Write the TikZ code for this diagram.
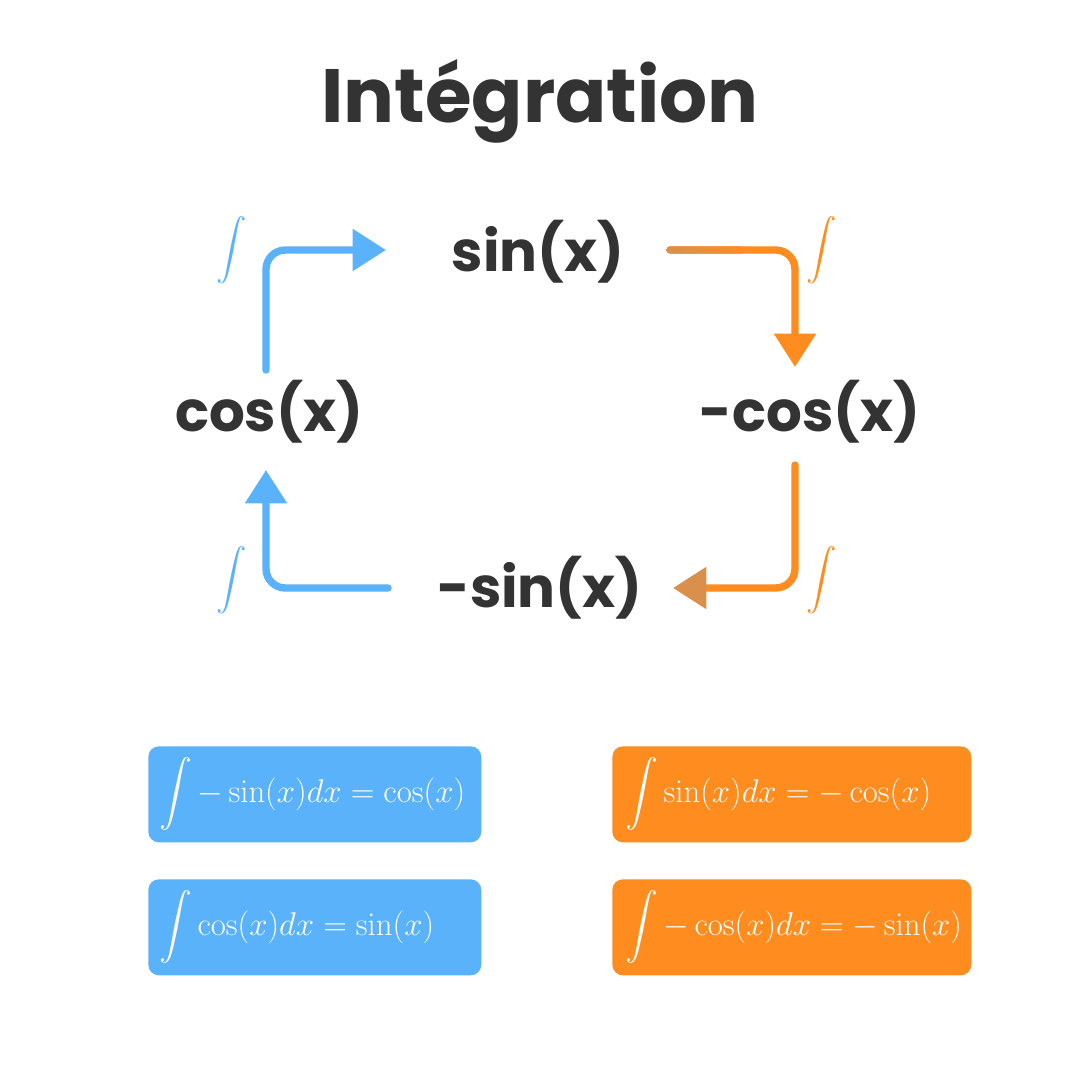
\documentclass[tikz,border=0pt]{standalone}
\usepackage{amsmath}
\usepackage{graphicx}
\usepackage[no-math]{fontspec}
\newfontfamily\popfont{Poppins}
\usetikzlibrary{arrows.meta}
\definecolor{txt}{HTML}{333333}
\definecolor{bblue}{HTML}{5AB2FA}
\definecolor{borange}{HTML}{FF8C1E}
\definecolor{obrown}{HTML}{D8904C}
\newcommand{\fml}[1]{\scalebox{1.08}{$\displaystyle #1$}}
\begin{document}
\begin{tikzpicture}[x=0.02cm,y=-0.02cm,
  lbl/.style={font=\popfont\bfseries\fontsize{32}{38}\selectfont, text=txt, inner sep=0, anchor=base},
  conn/.style={line width=4.2pt, rounded corners=11pt, line cap=round, -{Triangle[length=19pt,width=23pt]}},
  intsym/.style={font=\fontsize{19}{23}\selectfont, inner sep=0},
  fbox/.style={rounded corners=6pt, minimum height=1.92cm, inner sep=0, anchor=north west},
  ftext/.style={text=white, font=\fontsize{17.28}{21}\selectfont, inner sep=0, anchor=west}
]
\useasboundingbox (0,0) rectangle (1080,1080);
\fill[white] (0,0) rectangle (1080,1080);
\node[font=\popfont\bfseries\fontsize{43}{50}\selectfont, text=txt, anchor=base, inner sep=0] (title) at (540,122) {Intégration};
\node[lbl] (sin) at (538,271) {sin(x)};
\node[lbl] (cos) at (269,431) {cos(x)};
\node[lbl] (mcos) at (810,431) {-cos(x)};
\node[lbl] (msin) at (540,607) {-sin(x)};
% integral symbols
\node[intsym, text=bblue] (i1) at (232,250) {$\displaystyle\int$};
\node[intsym, text=borange] (i2) at (822,250) {$\displaystyle\int$};
\node[intsym, text=borange] (i3) at (822,580) {$\displaystyle\int$};
\node[intsym, text=bblue] (i4) at (232,580) {$\displaystyle\int$};
% connector end points
\coordinate (a1s) at (266,370); \coordinate (a1c) at (266,250); \coordinate (a1e) at (386,250);
\coordinate (a2s) at (670,250); \coordinate (a2c) at (795,250); \coordinate (a2e) at (795,367);
\coordinate (a3s) at (795,465); \coordinate (a3c) at (795,588); \coordinate (a3e) at (673,588);
\coordinate (a4s) at (388,588); \coordinate (a4c) at (266,588); \coordinate (a4e) at (266,470);
\draw[conn, bblue] (a1s) -- (a1c) -- (a1e);
\draw[conn, borange] (a2s) -- (a2c) -- (a2e);
\shade[left color=obrown, right color=borange, rounded corners=2pt] (666.5,246.3) rectangle (745,253.7);
\draw[conn, borange, -{Triangle[length=19pt,width=23pt,color=obrown]}] (a3s) -- (a3c) -- (a3e);
\draw[conn, bblue] (a4s) -- (a4c) -- (a4e);
% formula boxes
\node[fbox, fill=bblue, minimum width=6.66cm] (b1) at (148,746) {};
\node[fbox, fill=bblue, minimum width=6.66cm] (b2) at (148,879) {};
\node[fbox, fill=borange, minimum width=7.18cm] (b3) at (612,746) {};
\node[fbox, fill=borange, minimum width=7.18cm] (b4) at (612,879) {};
\node[ftext] (f1) at ([xshift=0.22cm]b1.west) {\fml{\int -\sin(x)dx = \cos(x)}};
\node[ftext] (f2) at ([xshift=0.22cm]b2.west) {\fml{\int \cos(x)dx = \sin(x)}};
\node[ftext] (f3) at ([xshift=0.26cm]b3.west) {\fml{\int \sin(x)dx = -\cos(x)}};
\node[ftext] (f4) at ([xshift=0.26cm]b4.west) {\fml{\int -\cos(x)dx = -\sin(x)}};
\end{tikzpicture}
\end{document}
